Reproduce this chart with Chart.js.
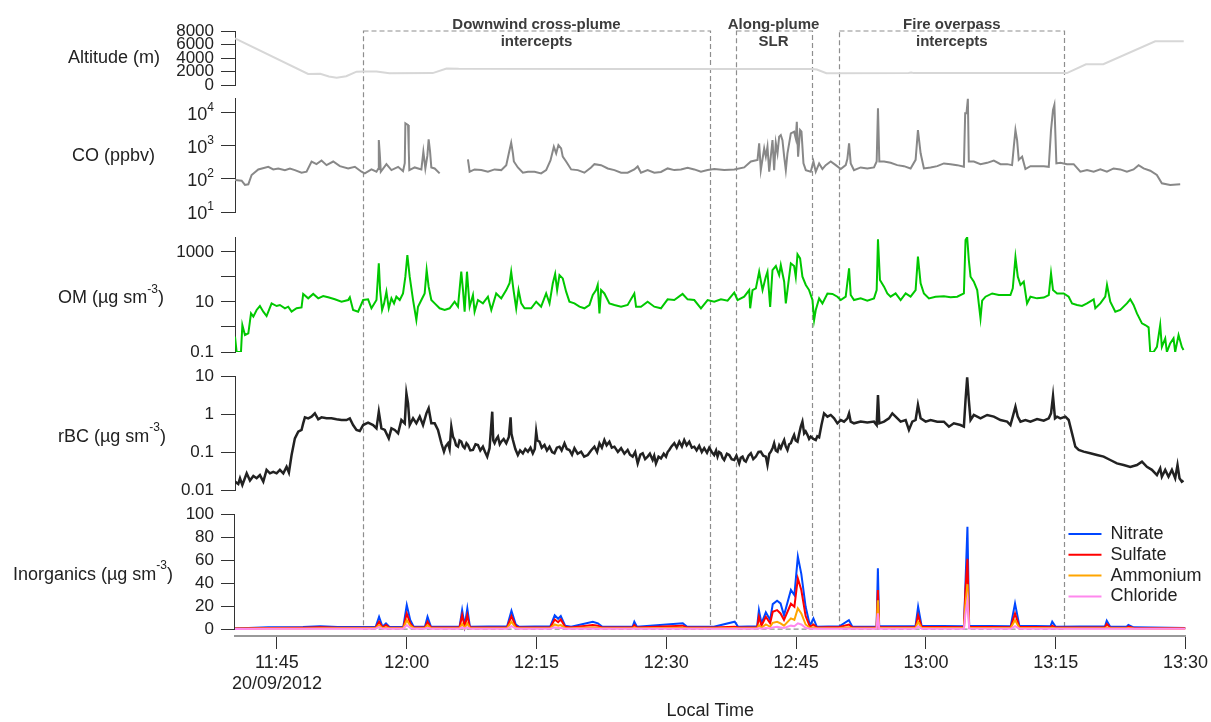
<!DOCTYPE html>
<html>
<head>
<meta charset="utf-8">
<script src="https://cdn.jsdelivr.net/npm/chart.js@4.4.1/dist/chart.umd.min.js"></script>
<style>
  html, body { margin: 0; background: #fff; }
  canvas { display: block; }
</style>
</head>
<body>
<canvas id="flight" width="1211" height="722"></canvas>
<script>
const FONT = '"Liberation Sans", Arial, Helvetica, sans-serif';
const INK = "#222";

Chart.defaults.font.family = FONT;
Chart.defaults.font.size = 18;
Chart.defaults.color = INK;
Chart.defaults.animation = false;
Chart.defaults.plugins.legend.display = false;
Chart.defaults.plugins.tooltip.enabled = false;
Chart.defaults.elements.point.radius = 0;
Chart.defaults.elements.line.borderWidth = 2;
Chart.defaults.elements.line.tension = 0;

// time is minutes after midnight (local), 20/09/2012
const xTicks = [705, 720, 735, 750, 765, 780, 795, 810];
const flightDate = "20/09/2012";

// flight segments
const segStart = [715, 758, 770];
const segEnd = [755, 766.8, 796];
const segLabels = [["Downwind cross-plume", "intercepts"], ["Along-plume", "SLR"], ["Fire overpass", "intercepts"]];

// [time, altitude m]
const altitudeTrack = [
  [700.15, 6900], [708.6, 1630], [710, 1650], [711, 1250], [711.9, 1080], [713, 1300], [714.2, 1970],
  [715, 2000], [716.5, 2000], [718, 1750], [723, 1760], [724.6, 2450], [726, 2400], [745, 2370],
  [766.8, 2370], [767.4, 2300], [768.5, 1750], [778, 1780], [778.3, 1850], [778.6, 1760], [796.3, 1760],
  [798.5, 3060], [800.5, 3080], [806.5, 6480], [809.8, 6480],
];

// [time, CO ppbv]  (null = instrument gap)
const coReadings = [
  [700.15, 93], [700.92, 89], [701.3, 66], [701.69, 69], [702.07, 132], [702.84, 195], [704, 234], [704.57, 195],
  [705.15, 209], [705.92, 186], [706.5, 209], [707.07, 186], [707.84, 155], [708.42, 166], [709, 339], [709.57, 282],
  [710.15, 363], [710.73, 263], [711.5, 339], [712.27, 245], [713.23, 209], [714, 234], [714.77, 166], [715.15, 148],
  [715.92, 195], [716.5, 166], [716.69, 200], [716.77, 1510], [716.88, 600], [717, 166], [717.65, 282], [718.23, 186],
  [719, 234], [719.57, 174], [719.77, 300], [719.84, 4870], [720.15, 4340], [720.23, 800], [720.3, 186], [720.92, 224],
  [721.69, 195], [721.92, 673], [722.15, 209], [722.38, 500], [722.53, 1590], [722.69, 700], [722.84, 224], [723.23, 209],
  [723.8, 148], [725.5, null],
  [727.07, 395], [727.27, 166], [727.84, 195], [728.61, 186], [729.38, 166], [730.15, 195], [730.92, 186], [731.5, 263],
  [731.88, 759], [732.07, 1260], [732.27, 600], [732.38, 339], [732.84, 224], [733.42, 155], [734, 166], [734.77, 166],
  [735.53, 148], [736.11, 186], [736.61, 363], [737, 955], [737.27, 600], [737.53, 1070], [737.84, 850], [738.03, 476],
  [738.42, 339], [739, 195], [739.77, 186], [740.53, 155], [741.3, 224], [741.69, 282], [742.46, 263], [743.23, 209],
  [744, 186], [744.77, 155], [745.53, 155], [746.3, 195], [746.69, 240], [747.07, 155], [747.84, 186], [748.61, 155],
  [749.38, 163], [750.15, 209], [750.92, 186], [751.69, 195], [752.46, 219], [753.23, 195], [754, 166], [754.77, 186],
  [755.54, 200], [756.69, 186], [757.85, 195], [759, 224], [759.77, 339], [760.54, 380], [760.73, 1200], [760.92, 186],
  [761.31, 850], [761.5, 476], [761.69, 955], [761.89, 166], [762.27, 1510], [762.46, 186], [762.65, 1260], [762.85, 600],
  [763.04, 1920], [763.23, 2140], [763.42, 1510], [763.62, 476], [763.81, 186], [764, 600], [764.39, 2410], [764.77, 2720],
  [764.96, 1700], [765.08, 5450], [765.23, 476], [765.46, 3040], [765.62, 2720], [765.85, 297], [766.12, 186], [766.69, 166],
  [767, 339], [767.27, 166], [767.66, 297], [768.04, 200], [768.42, 263], [769, 339], [769.58, 263], [770.16, 200],
  [770.73, 263], [770.92, 400], [771.12, 1200], [771.31, 297], [771.69, 186], [772.46, 224], [773.23, 209], [774, 224],
  [774.31, 339], [774.46, 13900], [774.62, 339], [775.16, 339], [775.92, 309], [776.69, 263], [777.46, 245], [778.23, 209],
  [778.81, 380], [779.08, 3040], [779.39, 600], [779.77, 209], [780.54, 224], [781.31, 245], [782.08, 297], [782.85, 282],
  [783.62, 263], [784.39, 234], [784.54, 9770], [784.69, 9770], [784.85, 27000], [784.96, 339], [785.54, 339], [786.31, 282],
  [787.08, 309], [787.85, 363], [788.62, 282], [789.39, 282], [789.96, 263], [790.16, 955], [790.35, 3040], [790.54, 1510],
  [790.73, 380], [791.12, 476], [791.5, 200], [792.08, 245], [792.85, 245], [793.62, 245], [794.2, 234], [794.46, 3040],
  [794.69, 12300], [794.85, 17500], [795.08, 297], [795.54, 309], [796.31, 282], [797.08, 282], [797.85, 166], [798.62, 186],
  [799.39, 166], [800.16, 195], [800.92, 166], [801.69, 209], [802.46, 195], [803.23, 166], [804, 195], [804.58, 263],
  [805.16, 209], [805.93, 178], [806.69, 132], [807.27, 74], [808.23, 66], [809.39, 69],
];

// [time, organic matter µg sm-3]
const omReadings = [
  [700.15, 0.41], [700.34, 0.1], [700.84, 0.1], [701, 1.2], [701.3, 0.48], [701.69, 0.56], [702, 3.5], [702.27, 2.6],
  [702.65, 4.8], [703.03, 6.9], [703.42, 4.1], [703.8, 2.75], [704.38, 8.8], [704.96, 6.9], [705.34, 7.6], [705.92, 5.6],
  [706.3, 6.5], [706.69, 4.1], [707.27, 5.6], [707.84, 6.1], [708.03, 21], [708.61, 14], [709.19, 21], [709.77, 14],
  [710.34, 17.4], [710.92, 15.4], [711.69, 12.8], [712.46, 10.3], [713.23, 12], [713.42, 15.4], [713.8, 4.8], [714.38, 4.1],
  [714.96, 12], [715.53, 12.8], [715.92, 5.6], [716.5, 12], [716.77, 352], [716.92, 30], [717.15, 4.8], [717.38, 8.8],
  [717.65, 26], [717.92, 5.6], [718.23, 14], [718.53, 8.8], [718.8, 16.3], [719.19, 12], [719.57, 22], [719.84, 103],
  [720.07, 759], [720.34, 103], [720.73, 12], [721.11, 1.9], [721.3, 6.5], [721.69, 12], [722.07, 22], [722.3, 190],
  [722.53, 41], [722.84, 12], [723.23, 8.8], [723.8, 5.6], [724.38, 4.8], [724.96, 5.6], [725.53, 10.3], [725.92, 6.5],
  [726.3, 163], [726.5, 30], [726.69, 4.1], [726.96, 163], [727.27, 6.5], [727.65, 19], [727.84, 4.1], [728.23, 12],
  [728.8, 8.8], [729.38, 16.3], [729.77, 4.8], [730.34, 22], [730.92, 14], [731.5, 30], [731.88, 56], [732.07, 163],
  [732.34, 30], [732.65, 5.6], [732.92, 30], [733.23, 8.8], [733.61, 5.6], [734.38, 5.6], [734.96, 10.3], [735.53, 6.5],
  [736.11, 22], [736.5, 8.8], [736.88, 56], [737.15, 132], [737.38, 30], [737.65, 120], [738.03, 88], [738.42, 26],
  [738.8, 10.3], [739.38, 8.8], [739.96, 6.5], [740.53, 5.6], [741.11, 7.6], [741.5, 19], [741.88, 30], [742.07, 48],
  [742.27, 3.5], [742.46, 30], [742.84, 22], [743.42, 8.8], [744, 7.6], [744.77, 6.5], [745.53, 7.6], [746.3, 22],
  [746.5, 6.5], [747.07, 6.5], [747.84, 10.3], [748.61, 6.5], [749.38, 5.6], [750.15, 12.8], [750.92, 12], [751.88, 21],
  [752.46, 12.8], [753.23, 12], [754, 5.6], [754.77, 12], [755.54, 10.3], [756.31, 12.8], [757.08, 11.3], [757.85, 23.6],
  [758.23, 12], [759, 16.3], [759.58, 30], [759.69, 5.6], [759.96, 30], [760.35, 35], [760.73, 163], [761.12, 30],
  [761.5, 103], [761.69, 163], [762, 6.4], [762.27, 190], [762.66, 275], [763.04, 120], [763.23, 302], [763.62, 65],
  [763.81, 8.8], [764, 30], [764.39, 352], [764.77, 275], [764.96, 103], [765.16, 807], [765.46, 558], [765.73, 103],
  [766.12, 48], [766.5, 30], [766.89, 12], [767.08, 1.9], [767.27, 4.8], [767.66, 14], [768.04, 8.8], [768.62, 22],
  [769.2, 21], [769.77, 16.3], [770.16, 12], [770.73, 16.3], [771.12, 222], [771.31, 19], [771.69, 12], [772.46, 14],
  [773.23, 11.3], [774, 14], [774.31, 30], [774.46, 3210], [774.69, 76], [775.16, 41], [775.54, 22], [775.92, 16.3],
  [776.5, 22], [777.08, 12], [777.66, 22], [778.23, 16.3], [778.81, 30], [779.08, 650], [779.39, 56], [779.77, 22],
  [780.35, 14], [781.12, 16.3], [782.08, 17], [782.85, 15.4], [783.62, 16.3], [784.39, 22], [784.58, 3020], [784.77, 3860],
  [784.96, 479], [785.16, 103], [785.54, 65], [785.93, 30], [786.31, 2.2], [786.5, 11.3], [786.89, 16.3], [787.66, 22],
  [788.43, 19], [789.2, 19], [789.77, 19], [790.04, 35], [790.35, 612], [790.62, 103], [790.93, 48], [791.31, 65],
  [791.69, 8.8], [792.08, 16.3], [792.85, 14], [793.62, 15], [794.2, 19], [794.46, 140], [794.69, 30], [795.16, 22],
  [795.93, 22], [796.5, 16.3], [796.89, 8.8], [797.47, 7.6], [798.04, 7], [798.62, 8.8], [799.39, 12.8], [799.58, 5.6],
  [800.16, 8.8], [800.73, 16.3], [800.93, 48], [801.31, 10.3], [801.89, 4.1], [802.46, 4.8], [803.23, 8.8], [803.62, 12.8],
  [804, 7.6], [804.39, 3.5], [804.97, 1.4], [805.35, 1.2], [805.74, 0.97], [805.93, 0.1], [806.31, 0.1], [806.7, 0.16],
  [807.08, 1.2], [807.27, 0.16], [807.66, 0.35], [807.85, 0.1], [808.23, 0.22], [808.62, 0.35], [808.81, 0.1], [809.2, 0.48],
  [809.58, 0.16], [809.77, 0.12],
];

// [time, refractory black carbon µg sm-3]
const bcReadings = [
  [700.15, 0.0166], [700.53, 0.0144], [700.73, 0.0204], [701, 0.0135], [701.5, 0.0275], [701.88, 0.0178], [702.27, 0.0234],
  [702.65, 0.0204], [703.03, 0.0246], [703.42, 0.0166], [703.8, 0.0339], [704.19, 0.0275], [704.57, 0.0302], [704.96, 0.0275],
  [705.34, 0.0339], [705.73, 0.0275], [706.11, 0.0407], [706.38, 0.0288], [706.69, 0.0832], [707.07, 0.229], [707.46, 0.343],
  [707.84, 0.38], [708.03, 0.568], [708.23, 0.817], [708.61, 0.769], [709, 0.851], [709.38, 1.04], [709.77, 0.725],
  [710.15, 0.817], [710.73, 0.769], [711.3, 0.769], [711.88, 0.725], [712.46, 0.695], [713.03, 0.695], [713.42, 0.769],
  [713.8, 0.513], [714.19, 0.38], [714.57, 0.357], [714.96, 0.513], [715.53, 0.591], [716.11, 0.513], [716.5, 0.42],
  [716.77, 1.15], [717.07, 0.42], [717.46, 0.38], [717.92, 0.229], [718.23, 0.42], [718.61, 0.38], [719, 0.31],
  [719.38, 0.695], [719.77, 0.568], [719.96, 3.5], [720.15, 1.9], [720.34, 0.513], [720.73, 0.769], [721.11, 0.568],
  [721.5, 0.851], [721.88, 0.513], [722.27, 1.04], [722.53, 1.41], [722.84, 0.568], [723.23, 0.568], [723.61, 0.38],
  [724, 0.17], [724.3, 0.102], [724.5, 0.14], [724.77, 0.17], [724.95, 0.12], [725.15, 0.464], [725.35, 0.25], [725.53, 0.207],
  [725.7, 0.15], [725.92, 0.138], [726.1, 0.2], [726.3, 0.187], [726.5, 0.14], [726.69, 0.126], [726.9, 0.17], [727.07, 0.153],
  [727.35, 0.11], [727.65, 0.113], [727.95, 0.16], [728.23, 0.153], [728.5, 0.11], [728.8, 0.138], [729.05, 0.1], [729.3, 0.0757],
  [729.57, 0.126], [729.88, 1.15], [730, 0.2], [730.15, 0.17], [730.35, 0.22], [730.54, 0.254], [730.75, 0.16], [730.92, 0.187],
  [731.2, 0.22], [731.5, 0.17], [731.8, 0.25], [732, 0.817], [732.1, 0.3], [732.27, 0.207], [732.55, 0.12], [732.84, 0.0832],
  [733.1, 0.11], [733.42, 0.0923], [733.7, 0.12], [734, 0.102], [734.3, 0.13], [734.57, 0.0923], [734.8, 0.12], [734.96, 0.343],
  [735.1, 0.2], [735.34, 0.187], [735.6, 0.13], [735.92, 0.153], [736.2, 0.11], [736.5, 0.138], [736.8, 0.1], [737.07, 0.0923],
  [737.35, 0.13], [737.65, 0.138], [737.9, 0.11], [738.23, 0.17], [738.5, 0.12], [738.8, 0.113], [739.1, 0.085], [739.38, 0.126],
  [739.75, 0.09], [740.15, 0.102], [740.5, 0.075], [740.92, 0.0832], [741.3, 0.11], [741.69, 0.138], [742, 0.1], [742.27, 0.17],
  [742.55, 0.13], [742.84, 0.207], [743.1, 0.15], [743.42, 0.187], [743.7, 0.13], [744, 0.138], [744.4, 0.1], [744.77, 0.126],
  [745.15, 0.09], [745.53, 0.113], [745.8, 0.085], [746.11, 0.0757], [746.4, 0.1], [746.69, 0.05], [747, 0.085], [747.27, 0.0923],
  [747.55, 0.065], [747.84, 0.0757], [748.1, 0.09], [748.42, 0.0616], [748.6, 0.08], [748.8, 0.05], [749.1, 0.075], [749.38, 0.068],
  [749.7, 0.09], [749.96, 0.0757], [750.15, 0.1], [750.34, 0.113], [750.6, 0.14], [750.92, 0.17], [751.2, 0.13], [751.5, 0.187],
  [751.8, 0.14], [752.07, 0.207], [752.35, 0.15], [752.65, 0.187], [752.95, 0.13], [753.23, 0.138], [753.5, 0.11], [753.8, 0.145],
  [754.1, 0.1], [754.38, 0.126], [754.7, 0.095], [754.96, 0.13], [755.25, 0.1], [755.53, 0.0832], [755.75, 0.11], [755.92, 0.0757],
  [756.1, 0.1], [756.31, 0.0923], [756.5, 0.07], [756.69, 0.0616], [757, 0.09], [757.27, 0.0832], [757.55, 0.065], [757.85, 0.0616],
  [758.1, 0.08], [758.42, 0.05], [758.6, 0.07], [758.81, 0.0757], [759, 0.06], [759.19, 0.0557], [759.5, 0.08], [759.77, 0.0923],
  [760.05, 0.065], [760.35, 0.0757], [760.65, 0.1], [760.92, 0.102], [761.2, 0.08], [761.5, 0.0757], [761.69, 0.0455], [761.9, 0.09],
  [762.08, 0.102], [762.3, 0.13], [762.46, 0.17], [762.65, 0.11], [762.85, 0.102], [763.05, 0.15], [763.23, 0.126], [763.45, 0.17],
  [763.62, 0.207], [763.8, 0.14], [764, 0.113], [764.2, 0.16], [764.39, 0.17], [764.6, 0.23], [764.77, 0.282], [764.95, 0.2],
  [765.16, 0.187], [765.35, 0.3], [765.54, 0.464], [765.73, 0.63], [765.93, 0.31], [766.1, 0.35], [766.31, 0.282], [766.5, 0.22],
  [766.69, 0.254], [767, 0.22], [767.27, 0.207], [767.45, 0.26], [767.66, 0.243], [767.93, 0.513],
  [768.23, 1.04], [768.62, 0.851], [769, 0.942], [769.39, 0.769], [769.77, 0.568], [770.16, 0.695], [770.54, 0.63],
  [770.93, 0.769], [771.12, 1.04], [771.31, 0.63], [771.69, 0.568], [772.46, 0.63], [773.23, 0.6], [774, 0.63],
  [774.31, 0.513], [774.46, 3.16], [774.62, 0.568], [775.16, 0.63], [775.73, 0.769], [776.12, 1.04], [776.5, 0.851],
  [777.08, 0.63], [777.66, 0.695], [778.04, 0.38], [778.43, 0.63], [778.81, 0.695], [779.08, 1.73], [779.39, 0.769],
  [779.97, 0.63], [780.54, 0.695], [781.31, 0.63], [782.08, 0.63], [782.66, 0.464], [783.23, 0.568], [784, 0.513],
  [784.39, 0.464], [784.58, 2.33], [784.77, 9.2], [784.96, 2.33], [785.16, 0.695], [785.54, 0.942], [786.31, 0.769],
  [787.08, 0.942], [787.85, 0.851], [788.62, 0.695], [789.39, 0.63], [789.77, 0.513], [790.04, 0.851], [790.35, 1.56],
  [790.62, 0.851], [790.93, 0.63], [791.5, 0.695], [792.08, 0.63], [792.85, 0.74], [793.62, 0.67], [794.2, 0.769],
  [794.46, 1.04], [794.69, 2.98], [794.92, 0.769], [795.16, 0.851], [795.54, 0.769], [796.12, 0.851], [796.5, 0.695],
  [796.89, 0.31], [797.27, 0.138], [797.66, 0.113], [798.23, 0.102], [799, 0.0923], [799.77, 0.0832], [800.54, 0.0757],
  [801.31, 0.0616], [802.08, 0.05], [802.85, 0.0455], [803.62, 0.0407], [804.39, 0.0455], [804.97, 0.0557], [805.54, 0.0407],
  [806.12, 0.0339], [806.7, 0.0246], [807.08, 0.0372], [807.27, 0.0224], [807.66, 0.0339], [808.04, 0.0224], [808.43, 0.0339],
  [808.81, 0.0204], [809.08, 0.0455], [809.31, 0.0204], [809.58, 0.0166], [809.77, 0.0178],
];

// inorganic aerosol, µg sm-3, sampled on a shared time base
const inorgTime = [
  700.15, 704, 708, 710, 712, 716.4, 716.8, 717.2, 717.6, 718,
  719.6, 720, 720.4, 720.8, 722.1, 722.4, 722.8, 726.1, 726.4, 726.7,
  727, 727.3, 731.6, 732.1, 732.6, 733, 736.6, 737.1, 737.5, 737.8,
  738.3, 739, 741.5, 742.1, 742.6, 746.1, 746.3, 746.6, 751.9, 752.4,
  755.5, 757.9, 758.3, 760.5, 760.7, 761, 761.5, 762, 762.3, 762.8,
  763.2, 763.6, 764.4, 764.8, 765.2, 765.6, 766.1, 766.6, 767, 767.4,
  770, 771.1, 771.5, 774.3, 774.45, 774.6, 778.8, 779.1, 779.5, 784.4,
  784.55, 784.8, 785, 789.8, 790.3, 790.8, 794.4, 794.6, 795, 800.7,
  800.9, 801.3, 803.2, 803.4, 804, 810,
];
const nitrate = [
  0.5, 1.5, 1.8, 2.5, 1.8, 1.8, 10.7, 2, 5, 1.8,
  2, 21, 8, 2, 2, 10.7, 2, 2, 16.5, 3,
  18, 2, 2.5, 16, 4, 2, 2.5, 12, 9, 11.3,
  3, 2, 6.4, 5, 2, 2, 6.4, 2, 5, 2,
  2, 6.4, 2, 2.5, 16.5, 5, 14.5, 8, 21.7, 24.6,
  22.3, 12, 34, 29.6, 63, 48, 19.4, 3, 9.3, 2,
  2.5, 7.8, 2, 2, 52.8, 2.5, 2.5, 19.4, 3, 2.5,
  35, 89, 3, 2.5, 22.3, 3, 2.5, 6.4, 2, 2.5,
  7.2, 2, 2, 3.5, 1.5, 1,
];
const sulfate = [
  0.6, 1, 1.2, 1.5, 1.2, 1.2, 6.4, 1.3, 3.5, 1.2,
  1.3, 13.6, 5, 1.3, 1.3, 6.4, 1.3, 1.3, 12, 2,
  12, 1.3, 1.5, 11.3, 2.5, 1.3, 1.6, 8.4, 6, 8.4,
  2, 1.3, 3.5, 3, 1.3, 1.3, 3.5, 1.3, 3, 1.3,
  1.3, 2, 1.3, 1.5, 10.7, 3, 10.7, 5, 15, 16.5,
  13.6, 8, 22, 19.4, 44, 34, 11.3, 2, 4, 1.3,
  1.8, 4, 1.3, 1.3, 34, 1.5, 1.5, 12, 2, 1.5,
  31, 61, 2, 1.5, 13.6, 2, 1.5, 3, 1.3, 1.5,
  4.5, 1.3, 1.2, 2.2, 1, 0.8,
];
const ammonium = [
  0.3, 0.6, 0.6, 0.8, 0.7, 0.7, 3.5, 0.8, 1.5, 0.7,
  0.8, 7.8, 3, 0.8, 0.8, 3.5, 0.8, 0.8, 4.5, 1,
  5, 0.8, 0.8, 6.4, 1.2, 0.8, 0.9, 4, 3, 3.5,
  1, 0.8, 1.5, 1.2, 0.8, 0.8, 1.5, 0.8, 1.2, 0.8,
  0.8, 1, 0.8, 0.8, 3.5, 1.2, 4, 2, 5.5, 6.4,
  5, 3, 9.3, 8, 18, 13.6, 4, 1, 1.5, 0.8,
  0.9, 1.5, 0.8, 0.8, 25, 0.9, 0.9, 6.4, 1, 0.9,
  20, 39, 1.2, 0.9, 7.8, 1, 0.9, 1.2, 0.8, 0.8,
  1.5, 0.8, 0.7, 1, 0.5, 0.4,
];
const chloride = [
  0.1, 0.2, 0.2, 0.3, 0.2, 0.2, 2, 0.3, 0.5, 0.2,
  0.3, 3.5, 1, 0.3, 0.3, 1.2, 0.3, 0.3, 1.5, 0.4,
  1.5, 0.3, 0.3, 2.5, 0.5, 0.3, 0.3, 1.5, 1, 1.2,
  0.4, 0.3, 0.5, 0.4, 0.3, 0.3, 0.5, 0.3, 0.4, 0.3,
  0.3, 0.3, 0.3, 0.3, 1, 0.4, 1, 0.6, 1.5, 2,
  1.5, 1, 3, 2.5, 5, 4, 1.2, 0.4, 0.5, 0.3,
  0.3, 0.5, 0.3, 0.3, 13.6, 0.4, 0.3, 2.5, 0.4, 0.3,
  12, 25, 0.6, 0.3, 2.5, 0.4, 0.3, 0.4, 0.3, 0.3,
  0.5, 0.3, 0.3, 0.3, 0.2, 0.2,
];

const pairsXY = (rows) => rows.map(([x, y]) => ({ x, y }));
const onTime = (vals) => vals.map((y, i) => ({ x: inorgTime[i], y }));
const hhmm = (v) => {
  const h = Math.floor(v / 60), m = Math.round(v % 60);
  return `${h}:${String(m).padStart(2, "0")}`;
};
const fixedTicks = (vals) => (s) => { s.ticks = vals.map((value) => ({ value })); };

// y axis titles (with an optional superscript and closing text)
const axisTitles = {
  yAlt: ["Altitude (m)"],
  yCO: ["CO (ppbv)"],
  yOM: ["OM (µg sm", "-3", ")"],
  yBC: ["rBC (µg sm", "-3", ")"],
  yInorg: ["Inorganics (µg sm", "-3", ")"],
};
const titleRight = { yAlt: 160, yCO: 155, yOM: 164, yBC: 166, yInorg: 173 };
const titleShift = { yAlt: 0, yCO: 1, yOM: 4, yBC: 4, yInorg: 0 };

function richText(ctx, right, y, parts) {
  const specs = parts.map((text, i) => ({ text, size: i === 1 ? 12 : 18, dy: i === 1 ? -9 : 0 }));
  const widths = specs.map((p) => { ctx.font = `${p.size}px ${FONT}`; return ctx.measureText(p.text).width; });
  let x = right - widths.reduce((a, b) => a + b, 0);
  specs.forEach((p, i) => {
    ctx.font = `${p.size}px ${FONT}`;
    ctx.fillText(p.text, x, y + p.dy);
    x += widths[i];
  });
}

const panelDecor = {
  id: "panelDecor",
  beforeDatasetsDraw(chart) {
    const { ctx, chartArea, scales } = chart;
    const bottom = scales.yInorg.getPixelForValue(0);
    ctx.save();
    ctx.strokeStyle = "#8e8e8e";
    ctx.lineWidth = 1.2;
    ctx.setLineDash([5, 3]);
    segStart.forEach((t0, i) => {
      const x0 = Math.round(scales.x.getPixelForValue(t0)) + 0.5;
      const x1 = Math.round(scales.x.getPixelForValue(segEnd[i])) + 0.5;
      ctx.strokeRect(x0, chartArea.top, x1 - x0, bottom - chartArea.top);
    });
    ctx.restore();
  },
  afterDraw(chart) {
    const { ctx, chartArea, scales } = chart;
    ctx.save();
    ctx.fillStyle = INK;
    ctx.textBaseline = "middle";
    ctx.textAlign = "left";

    // panel titles
    Object.keys(axisTitles).forEach((id) => {
      const s = scales[id];
      richText(ctx, titleRight[id], (s.top + s.bottom) / 2 + titleShift[id], axisTitles[id]);
    });

    // CO decades as powers of ten
    const co = scales.yCO;
    co.ticks.forEach((t) => {
      const y = co.getPixelForValue(t.value);
      const exp = String(Math.round(Math.log10(t.value)));
      ctx.font = `12px ${FONT}`;
      const we = ctx.measureText(exp).width;
      const right = co.right - 21;
      ctx.fillText(exp, right - we, y - 5.5);
      ctx.font = `18px ${FONT}`;
      ctx.textAlign = "right";
      ctx.fillText("10", right - we, y + 2.5);
      ctx.textAlign = "left";
    });

    // inorganics axis line stops at zero
    const inorg = scales.yInorg;
    ctx.strokeStyle = "#333";
    ctx.lineWidth = 1;
    ctx.beginPath();
    ctx.moveTo(Math.round(inorg.right) - 0.5, inorg.getPixelForValue(100));
    ctx.lineTo(Math.round(inorg.right) - 0.5, inorg.getPixelForValue(0));
    ctx.stroke();

    // segment captions
    ctx.font = `bold 15px ${FONT}`;
    ctx.fillStyle = "#3c3c3c";
    ctx.textAlign = "center";
    ctx.textBaseline = "alphabetic";
    segStart.forEach((t0, i) => {
      const xc = (scales.x.getPixelForValue(t0) + scales.x.getPixelForValue(segEnd[i])) / 2;
      ctx.fillText(segLabels[i][0], xc, chartArea.top - 2);
      ctx.fillText(segLabels[i][1], xc, chartArea.top + 15);
    });

    // legend for the inorganic species
    const lx = chartArea.right - 117;
    let ly = inorg.top + 20;
    ctx.font = `18px ${FONT}`;
    ctx.textAlign = "left";
    ctx.textBaseline = "middle";
    ctx.lineWidth = 2;
    chart.data.datasets.filter((d) => d.yAxisID === "yInorg").forEach((d) => {
      ctx.strokeStyle = d.borderColor;
      ctx.beginPath();
      ctx.moveTo(lx, ly);
      ctx.lineTo(lx + 33, ly);
      ctx.stroke();
      ctx.fillStyle = INK;
      ctx.fillText(d.label, lx + 42, ly);
      ly += 20.8;
    });
    ctx.restore();
  },
};

const yCommon = {
  position: "left",
  stack: "panels",
  grid: { drawOnChartArea: false, tickLength: 14, color: "#333", tickColor: "#333" },
  border: { color: "#333", width: 1 },
  ticks: { autoSkip: false, padding: 7, color: INK, font: { size: 17 }, callback: (v) => String(v) },
  afterFit: (s) => { s.width = 235; },
};
const spacer = (weight, stackWeight) => ({
  type: "linear", position: "left", stack: "panels", weight, stackWeight,
  grid: { display: false }, ticks: { display: false }, border: { display: false },
});

new Chart(document.getElementById("flight"), {
  type: "line",
  data: {
    datasets: [
      { label: "Altitude", data: pairsXY(altitudeTrack), yAxisID: "yAlt", borderColor: "#d7d7d7" },
      { label: "CO", data: pairsXY(coReadings), yAxisID: "yCO", borderColor: "#888888" },
      { label: "OM", data: pairsXY(omReadings), yAxisID: "yOM", borderColor: "#00c800" },
      { label: "rBC", data: pairsXY(bcReadings), yAxisID: "yBC", borderColor: "#222222", borderWidth: 2.5 },
      { label: "Nitrate", data: onTime(nitrate), yAxisID: "yInorg", borderColor: "#0046ff", order: 4 },
      { label: "Sulfate", data: onTime(sulfate), yAxisID: "yInorg", borderColor: "#ff0000", order: 3 },
      { label: "Ammonium", data: onTime(ammonium), yAxisID: "yInorg", borderColor: "#ffa500", order: 2 },
      { label: "Chloride", data: onTime(chloride), yAxisID: "yInorg", borderColor: "#ff88ee", order: 1 },
    ],
  },
  options: {
    responsive: false,
    layout: { padding: { top: 31, right: 24, bottom: 0, left: 0 } },
    scales: {
      x: {
        type: "linear", position: "bottom", min: 700.15, max: 810,
        afterBuildTicks: fixedTicks(xTicks),
        afterFit: (s) => { s.height = 86; },
        grid: { drawOnChartArea: false, tickLength: 13, color: "#333", tickColor: "#333" },
        border: { color: "#999", width: 2 },
        ticks: {
          autoSkip: false, maxRotation: 0, padding: 3, color: INK,
          callback: (v, i) => (i === 0 ? [hhmm(v), flightDate] : hhmm(v)),
        },
        title: { display: true, text: "Local Time", color: INK, padding: 0 },
      },
      yAlt: {
        ...yCommon, type: "linear", weight: 9, stackWeight: 54, min: 0, max: 8000,
        afterBuildTicks: fixedTicks([0, 2000, 4000, 6000, 8000]),
      },
      gap1: spacer(8, 13),
      yCO: {
        ...yCommon, type: "logarithmic", weight: 7, stackWeight: 114, min: 10, max: 28480,
        afterBuildTicks: fixedTicks([10, 100, 1000, 10000]),
        ticks: { ...yCommon.ticks, callback: () => "" },
      },
      gap2: spacer(6, 25),
      yOM: {
        ...yCommon, type: "logarithmic", weight: 5, stackWeight: 115, min: 0.1, max: 3981,
        afterBuildTicks: fixedTicks([0.1, 1, 10, 100, 1000]),
        ticks: { ...yCommon.ticks, callback: (v) => ([0.1, 10, 1000].includes(v) ? String(v) : "") },
      },
      gap3: spacer(4, 24),
      yBC: {
        ...yCommon, type: "logarithmic", weight: 3, stackWeight: 114, min: 0.01, max: 10,
        afterBuildTicks: fixedTicks([0.01, 0.1, 1, 10]),
      },
      gap4: spacer(2, 24),
      yInorg: {
        ...yCommon, type: "linear", weight: 1, stackWeight: 122, min: -6, max: 100,
        border: { display: false },
        afterBuildTicks: fixedTicks([0, 20, 40, 60, 80, 100]),
      },
    },
  },
  plugins: [panelDecor],
});
</script>
</body>
</html>
